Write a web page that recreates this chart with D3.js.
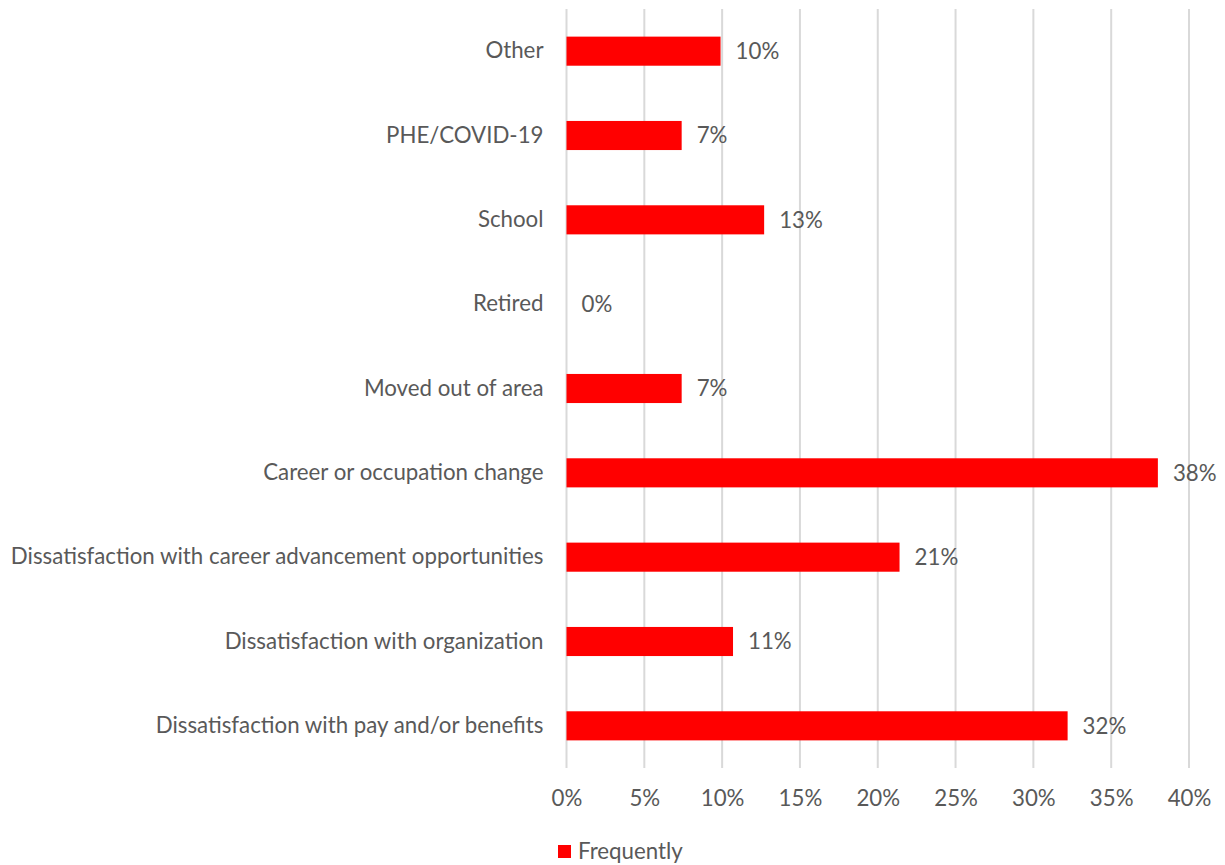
<!DOCTYPE html>
<html>
<head>
<meta charset="utf-8">
<script src="https://cdn.jsdelivr.net/npm/d3@7"></script>
<style>
  html, body { margin: 0; padding: 0; background: #fff; }
  svg { display: block; }
  text { font-family: Lato, "Open Sans", sans-serif; fill: #595959; }
</style>
</head>
<body>
<svg id="chart" width="1225" height="865"></svg>
<script>
// Reasons for leaving, share answering "Frequently"
const categories = [
  "Other",
  "PHE/COVID-19",
  "School",
  "Retired",
  "Moved out of area",
  "Career or occupation change",
  "Dissatisfaction with career advancement opportunities",
  "Dissatisfaction with organization",
  "Dissatisfaction with pay and/or benefits"
];
const frequently = [0.099, 0.074, 0.127, 0.0, 0.074, 0.380, 0.214, 0.107, 0.322];
const xTicks = [0, 0.05, 0.10, 0.15, 0.20, 0.25, 0.30, 0.35, 0.40];
const seriesName = "Frequently";

const svg = d3.select("#chart");
const margin = { top: 9, right: 36, bottom: 97, left: 566.5 };
const width = 1225, height = 865;

// Size the text so the longest category label spans the same width as the design
const probe = svg.append("text").attr("font-size", 20).text(categories[6]);
const probeW = probe.node().getComputedTextLength();
probe.remove();
const fs = 20 * 533 / probeW;

const x = d3.scaleLinear()
  .domain([0, 0.40])
  .range([margin.left, 1189]);

const y = d3.scaleBand()
  .domain(categories)
  .range([margin.top, height - margin.bottom])
  .paddingInner(0.655)
  .paddingOuter(0.3275);

// vertical gridlines
svg.append("g")
  .selectAll("line")
  .data(xTicks)
  .join("line")
  .attr("x1", d => x(d)).attr("x2", d => x(d))
  .attr("y1", margin.top).attr("y2", height - margin.bottom)
  .attr("stroke", "#d9d9d9")
  .attr("stroke-width", 2);

// x axis tick labels
const xAxis = d3.axisBottom(x)
  .tickValues(xTicks)
  .tickFormat(d3.format(".0%"))
  .tickSize(0)
  .tickPadding(0);
const gx = svg.append("g")
  .attr("transform", `translate(0, ${height - margin.bottom + 22})`)
  .call(xAxis);
gx.select(".domain").remove();
gx.selectAll("text")
  .attr("font-size", fs)
  .attr("font-family", "Lato, 'Open Sans', sans-serif")
  .attr("fill", "#595959");

// y axis category labels
const yAxis = d3.axisLeft(y).tickSize(0).tickPadding(23);
const gy = svg.append("g")
  .attr("transform", `translate(${margin.left}, 0)`)
  .call(yAxis);
gy.select(".domain").remove();
gy.selectAll("text")
  .attr("font-size", fs)
  .attr("font-family", "Lato, 'Open Sans', sans-serif")
  .attr("fill", "#595959");

// bars
const rows = categories.map((c, i) => ({ c, v: frequently[i] }));
svg.append("g")
  .selectAll("rect")
  .data(rows)
  .join("rect")
  .attr("x", x(0))
  .attr("y", d => y(d.c))
  .attr("width", d => x(d.v) - x(0))
  .attr("height", y.bandwidth())
  .attr("fill", "#ff0000");

// value labels
svg.append("g")
  .selectAll("text")
  .data(rows)
  .join("text")
  .attr("x", d => x(d.v) + 15)
  .attr("y", d => y(d.c) + y.bandwidth() / 2)
  .attr("dy", "0.35em")
  .attr("font-size", fs)
  .text(d => d3.format(".0%")(d.v));

// legend
const lg = svg.append("g").attr("transform", "translate(558, 845)");
lg.append("rect").attr("x", 0).attr("y", 0).attr("width", 13).attr("height", 13).attr("fill", "#ff0000");
lg.append("text").attr("x", 20).attr("y", 6.5).attr("dy", "0.35em").attr("font-size", fs).text(seriesName);
</script>
</body>
</html>
